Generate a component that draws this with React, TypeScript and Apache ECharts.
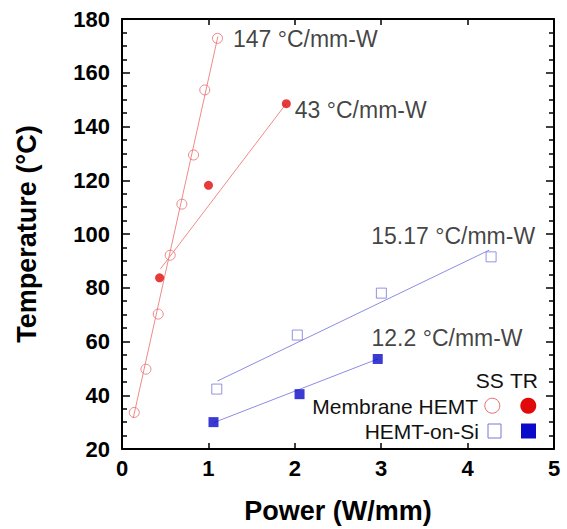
import React, { useEffect, useRef } from "react";
import * as echarts from "echarts";

// Membrane HEMT, steady state (open circles)
const memSSPower = [0.142, 0.277, 0.419, 0.558, 0.693, 0.828, 0.958, 1.105];
const memSSTemp = [33.6, 49.7, 70.2, 92.1, 111.1, 129.4, 153.6, 172.8];
// Membrane HEMT, transient (filled circles)
const memTRPower = [0.435, 1.001, 1.902];
const memTRTemp = [83.7, 118.1, 148.5];
// HEMT-on-Si, steady state (open squares)
const siSSPower = [1.097, 2.029, 3.002, 4.272];
const siSSTemp = [42.3, 62.4, 78.0, 91.5];
// HEMT-on-Si, transient (filled squares)
const siTRPower = [1.059, 2.055, 2.96];
const siTRTemp = [30.0, 40.4, 53.5];

// Fit lines (endpoints)
const memSSFitPower = [0.13, 1.11];
const memSSFitTemp = [31.5, 173.5];
const memTRFitPower = [0.445, 1.9];
const memTRFitTemp = [87, 148.5];
const siSSFitPower = [1.105, 4.25];
const siSSFitTemp = [45.3, 94];
const siTRFitPower = [1.06, 2.96];
const siTRFitTemp = [29.8, 53.5];

// Slope annotations
const annoText = ["147 °C/mm-W", "43 °C/mm-W", "15.17 °C/mm-W", "12.2 °C/mm-W"];
const annoPower = [1.284, 2.0, 2.885, 2.888];
const annoTemp = [172.4, 146.0, 99.3, 61.3];

// Axis ticks
const xTicks = [0, 1, 2, 3, 4, 5];
const yTicks = [20, 40, 60, 80, 100, 120, 140, 160, 180];

const legendHeader = ["SS", "TR"];
const legendRows = ["Membrane HEMT", "HEMT-on-Si"];

const zip = (a: number[], b: number[]) => a.map((v, i) => [v, b[i]]);

const RED = "#e10a0a";
const RED_LIGHT = "#e86b6b";
const RED_LINE = "#f08a8a";
const BLUE = "#0a0ac8";
const BLUE_LIGHT = "#7878d6";
const BLUE_LINE = "#8c8ce6";
const FONT = "Liberation Sans, Arial, sans-serif";

export default function App() {
  const ref = useRef<HTMLDivElement>(null);
  useEffect(() => {
    if (!ref.current) return;
    const chart = echarts.init(ref.current, undefined, { renderer: "svg" });
    const axisLine = { show: true, onZero: false, lineStyle: { color: "#000", width: 2 } };
    const xBase = {
      type: "value" as const,
      min: xTicks[0],
      max: xTicks[xTicks.length - 1],
      interval: 1,
      splitLine: { show: false },
      axisLine,
    };
    const yBase = {
      type: "value" as const,
      min: yTicks[0],
      max: yTicks[yTicks.length - 1],
      interval: 20,
      splitLine: { show: false },
      axisLine,
      minorTick: { show: true, splitNumber: 4, length: 5, lineStyle: { color: "#000", width: 1.5 } },
    };
    const line = (name: string, px: number[], ty: number[], color: string) => ({
      name,
      type: "line",
      data: zip(px, ty),
      showSymbol: false,
      symbol: "none",
      lineStyle: { color, width: 1 },
      z: 1,
    });
    const legendX = 478;
    const graphic: any[] = [
      { type: "text", x: 475.7, y: 380, style: { text: legendHeader[0], fontSize: 21, fontFamily: FONT, fill: "#111", verticalAlign: "middle" } },
      { type: "text", x: 510, y: 380, style: { text: legendHeader[1], fontSize: 21, fontFamily: FONT, fill: "#111", verticalAlign: "middle" } },
      { type: "text", x: legendX, y: 406, style: { text: legendRows[0], fontSize: 21, fontFamily: FONT, fill: "#111", align: "right", verticalAlign: "middle" } },
      { type: "text", x: legendX + 1, y: 431, style: { text: legendRows[1], fontSize: 21, fontFamily: FONT, fill: "#111", align: "right", verticalAlign: "middle" } },
      { type: "circle", shape: { cx: 492.3, cy: 405.7, r: 7.5 }, style: { fill: "none", stroke: RED_LIGHT, lineWidth: 1 } },
      { type: "circle", shape: { cx: 528.3, cy: 405.7, r: 8 }, style: { fill: RED } },
      { type: "rect", shape: { x: 488, y: 424, width: 13, height: 14 }, style: { fill: "none", stroke: BLUE_LIGHT, lineWidth: 1 } },
      { type: "rect", shape: { x: 521, y: 423.5, width: 15, height: 15 }, style: { fill: BLUE } },
    ];
    chart.setOption({
      animation: false,
      backgroundColor: "#fff",
      grid: { left: 122, right: 13, top: 19, bottom: 79, containLabel: false },
      xAxis: [
        {
          ...xBase,
          position: "bottom",
          name: "Power (W/mm)",
          nameLocation: "middle",
          nameGap: 48,
          nameTextStyle: { fontSize: 27, fontWeight: "bold", color: "#000", fontFamily: FONT },
          axisTick: { show: true, inside: true, length: 6, lineStyle: { color: "#000", width: 1.5 } },
          axisLabel: { show: true, margin: 8, fontSize: 22, fontWeight: "bold", color: "#000", fontFamily: FONT },
        },
        {
          ...xBase,
          position: "top",
          axisTick: { show: true, inside: true, length: 6, lineStyle: { color: "#000", width: 1.5 } },
          axisLabel: { show: false },
        },
      ],
      yAxis: [
        {
          ...yBase,
          position: "left",
          name: "Temperature (°C)",
          nameLocation: "middle",
          nameGap: 82,
          nameRotate: 90,
          nameTextStyle: { fontSize: 27, fontWeight: "bold", color: "#000", fontFamily: FONT },
          axisTick: { show: true, inside: true, length: 8, lineStyle: { color: "#000", width: 1.5 } },
          axisLabel: { show: true, margin: 12, fontSize: 22, fontWeight: "bold", color: "#000", fontFamily: FONT },
        },
        {
          ...yBase,
          position: "right",
          axisTick: { show: true, inside: true, length: 8, lineStyle: { color: "#000", width: 1.5 } },
          axisLabel: { show: false },
        },
      ],
      graphic,
      series: [
        line("Membrane SS fit", memSSFitPower, memSSFitTemp, RED_LINE),
        line("Membrane TR fit", memTRFitPower, memTRFitTemp, RED_LINE),
        line("Si SS fit", siSSFitPower, siSSFitTemp, BLUE_LINE),
        line("Si TR fit", siTRFitPower, siTRFitTemp, BLUE_LINE),
        {
          name: "Membrane HEMT SS",
          type: "scatter",
          data: zip(memSSPower, memSSTemp),
          symbol: "circle",
          symbolSize: 10,
          itemStyle: { color: "rgba(255,255,255,0)", borderColor: RED_LIGHT, borderWidth: 1 },
          z: 3,
        },
        {
          name: "Membrane HEMT TR",
          type: "scatter",
          data: zip(memTRPower, memTRTemp),
          symbol: "circle",
          symbolSize: 9,
          itemStyle: { color: RED },
          z: 3,
        },
        {
          name: "HEMT-on-Si SS",
          type: "scatter",
          data: zip(siSSPower, siSSTemp),
          symbol: "rect",
          symbolSize: 10,
          itemStyle: { color: "rgba(255,255,255,0)", borderColor: BLUE_LIGHT, borderWidth: 1 },
          z: 3,
        },
        {
          name: "HEMT-on-Si TR",
          type: "scatter",
          data: zip(siTRPower, siTRTemp),
          symbol: "rect",
          symbolSize: 10,
          itemStyle: { color: BLUE },
          z: 3,
        },
        {
          name: "annotations",
          type: "scatter",
          data: annoPower.map((p, i) => ({ value: [p, annoTemp[i]], name: annoText[i] })),
          symbolSize: 0,
          silent: true,
          label: {
            show: true,
            position: "right",
            distance: 0,
            formatter: (p: any) => p.name,
            fontSize: 23,
            fontFamily: FONT,
            color: "#111",
          },
          z: 4,
        },
      ],
    });
    return () => chart.dispose();
  }, []);
  return (
    <div
      ref={ref}
      style={{ position: "fixed", left: 0, top: 0, width: 567, height: 529, background: "#fff" }}
    />
  );
}
